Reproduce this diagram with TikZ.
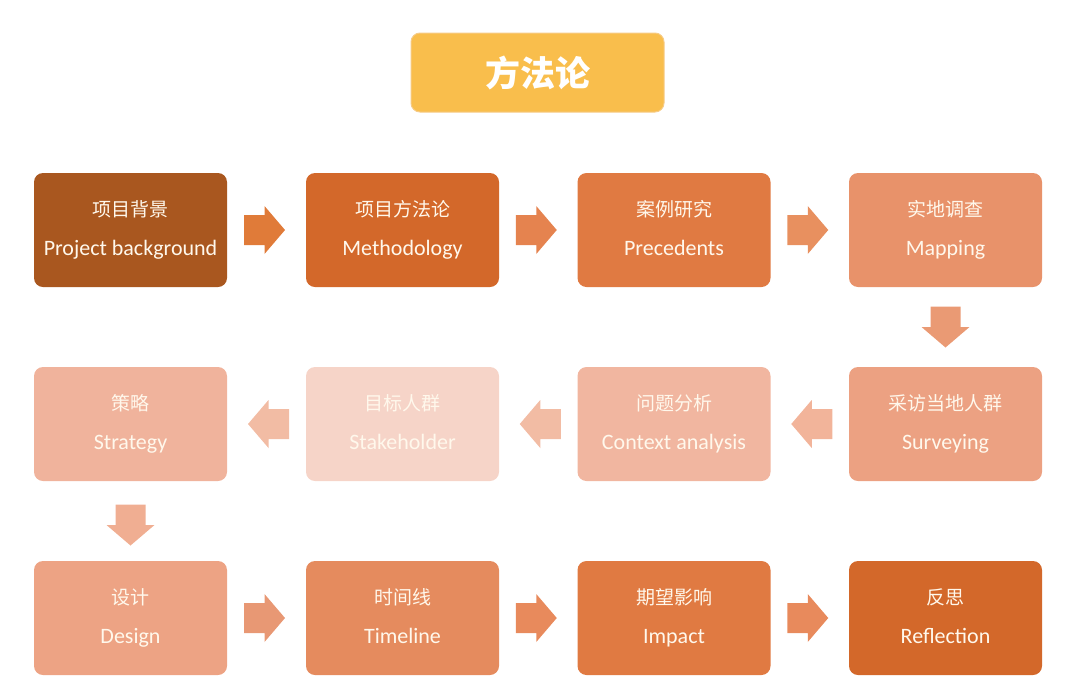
\documentclass[tikz,border=0pt]{standalone}
\usepackage{fontspec}
\setmainfont{Carlito}
\newfontfamily\cjk{Noto Sans CJK SC}
\usetikzlibrary{calc}

\definecolor{txt}{HTML}{FFF8EC}
\definecolor{ttl}{HTML}{F9BE4C}
\definecolor{ttlline}{HTML}{F6CB86}
\definecolor{c1}{HTML}{A9571F}
\definecolor{c2}{HTML}{D3682A}
\definecolor{c3}{HTML}{E07A42}
\definecolor{c4}{HTML}{E8926A}
\definecolor{c5}{HTML}{ECA182}
\definecolor{c6}{HTML}{F1B6A0}
\definecolor{c7}{HTML}{F6D4C8}
\definecolor{c8}{HTML}{F0B39C}
\definecolor{c9}{HTML}{EDA384}
\definecolor{c10}{HTML}{E58B5E}
\definecolor{a1}{HTML}{E07B39}
\definecolor{a2}{HTML}{E5834F}
\definecolor{a3}{HTML}{E8905F}
\definecolor{a4}{HTML}{EA9A74}
\definecolor{a5}{HTML}{F2B49A}
\definecolor{a6}{HTML}{F2BCA4}
\definecolor{a7}{HTML}{F0AE92}
\definecolor{a8}{HTML}{E89874}
\definecolor{a9}{HTML}{E88A5C}

\tikzstyle{box}=[rectangle,rounded corners=9pt,minimum width=193pt,minimum height=114pt,inner sep=0pt,text=txt,align=center,font=\fontsize{19}{39}\selectfont]
\tikzstyle{titlebox}=[rectangle,rounded corners=9pt,fill=ttl,draw=ttlline,line width=1pt,minimum width=253pt,minimum height=79pt,text=white,font=\cjk\bfseries\fontsize{35}{40}\selectfont]
\tikzset{blockarrow/.pic={\fill[pic actions] (-20.5,-15) -- (0,-15) -- (0,-24) -- (20.5,0) -- (0,24) -- (0,15) -- (-20.5,15) -- cycle;}}
\newcommand{\steptext}[2]{{\cjk\vphantom{项}#1}\\{\fontsize{22}{39}\selectfont\vphantom{Pjg}#2}}

\begin{document}
\begin{tikzpicture}[x=1pt,y=-1pt]
			\useasboundingbox (0,0) rectangle (1071,694);
			%The title
			\node[titlebox] (title) at (537.5,72.5) {方法论};
			%The steps, row by row
			\foreach \pos/\name/\col/\zh/\en in {{(130.5,230)/bg/c1/项目背景/Project background},
									{(402.5,230)/meth/c2/项目方法论/Methodology},
									{(674,230)/prec/c3/案例研究/Precedents},
									{(945.5,230)/map/c4/实地调查/Mapping}}
			\node[box,fill=\col] (\name) at \pos {\steptext{\zh}{\en}};
			\foreach \pos/\name/\col/\zh/\en in {{(945.5,424)/survey/c5/采访当地人群/Surveying},
									{(674,424)/context/c6/问题分析/Context analysis},
									{(402.5,424)/stake/c7/目标人群/Stakeholder},
									{(130.5,424)/strat/c8/策略/Strategy}}
			\node[box,fill=\col] (\name) at \pos {\steptext{\zh}{\en}};
			\foreach \pos/\name/\col/\zh/\en in {{(130.5,618)/design/c9/设计/Design},
									{(402.5,618)/time/c10/时间线/Timeline},
									{(674,618)/impact/c3/期望影响/Impact},
									{(945.5,618)/reflect/c2/反思/Reflection}}
			\node[box,fill=\col] (\name) at \pos {\steptext{\zh}{\en}};
			%Adding the block arrows between the steps
			\foreach \from/\to/\col in {bg/meth/a1, meth/prec/a2, prec/map/a3,
									design/time/a8, time/impact/a9, impact/reflect/a9}
			\pic[fill=\col] at ($(\from.east)!0.5!(\to.west)+(-2,0)$) {blockarrow};
			\foreach \from/\to/\col in {survey/context/a5, context/stake/a6, stake/strat/a6}
			\pic[fill=\col,rotate=180] at ($(\from.west)!0.5!(\to.east)+(2,0)$) {blockarrow};
			\pic[fill=a4,rotate=-90] at ($(map.south)!0.5!(survey.north)$) {blockarrow};
			\pic[fill=a7,rotate=-90] at ($(strat.south)!0.5!(design.north)+(0,4)$) {blockarrow};
		\end{tikzpicture}
\end{document}
